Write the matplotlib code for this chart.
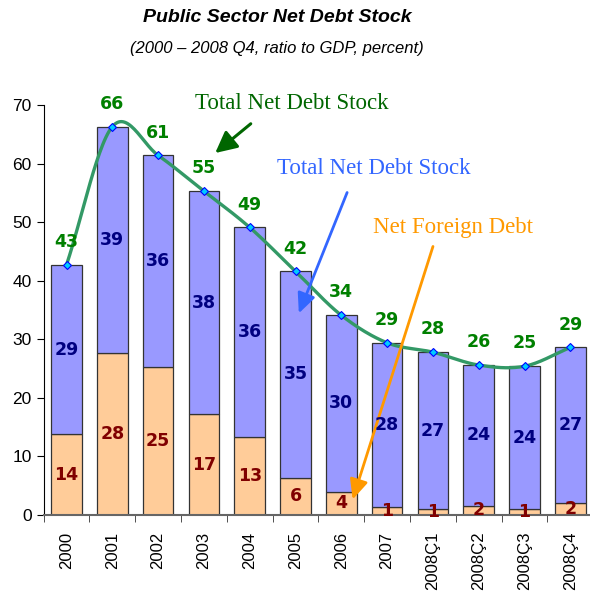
import numpy as np
import matplotlib
matplotlib.use("Agg")
from matplotlib import pyplot as plt

# etiquetas del eje x
periodos = ['2000', '2001', '2002', '2003', '2004', '2005', '2006', '2007',
            '2008Ç1', '2008Ç2', '2008Ç3', '2008Ç4']
# deuda externa neta (parte inferior de la barra)
deuda_externa = [13.8, 27.6, 25.2, 17.2, 13.4, 6.4, 4.0, 1.3, 1.0, 1.6, 1.0, 2.0]
# deuda interna neta (parte superior de la barra)
deuda_interna = [28.9, 38.7, 36.2, 38.1, 35.7, 35.2, 30.1, 28.1, 26.8, 24.0, 24.4, 26.6]

plt.rcParams['font.family'] = ['Liberation Sans', 'DejaVu Sans']


def catmull_rom(x, y, n=30):
    """curva suavizada que pasa por todos los puntos (estilo linea suavizada)"""
    px = np.concatenate([[2 * x[0] - x[1]], x, [2 * x[-1] - x[-2]]])
    py = np.concatenate([[2 * y[0] - y[1]], y, [2 * y[-1] - y[-2]]])
    xs, ys = [], []
    t = np.linspace(0, 1, n)
    for i in range(1, len(px) - 2):
        for p, out in ((px, xs), (py, ys)):
            p0, p1, p2, p3 = p[i - 1], p[i], p[i + 1], p[i + 2]
            out.extend(0.5 * ((2 * p1) + (-p0 + p2) * t
                              + (2 * p0 - 5 * p1 + 4 * p2 - p3) * t ** 2
                              + (-p0 + 3 * p1 - 3 * p2 + p3) * t ** 3))
    return np.array(xs), np.array(ys)


externa = np.array(deuda_externa)
interna = np.array(deuda_interna)
total = externa + interna
x = np.arange(len(periodos))

fig = plt.figure(figsize=(5.9, 5.93), dpi=100)
ax = fig.add_axes([43.6 / 590, 78 / 593, 549.6 / 590, 410 / 593])

ax.bar(x, externa, width=0.67, color='#ffcc99', edgecolor='#333333', linewidth=0.9)
ax.bar(x, interna, bottom=externa, width=0.67, color='#9999ff',
       edgecolor='#333333', linewidth=0.9)

# linea suavizada del total
sx, sy = catmull_rom(x.astype(float), total)
ax.plot(sx, sy, color='#339966', linewidth=2.4, zorder=3)
ax.plot(x, total, linestyle='none', marker='D', markersize=4.5,
        markerfacecolor='#00ccff', markeredgecolor='#0000ff',
        markeredgewidth=0.8, zorder=4)

# etiquetas de valores
for i in range(len(x)):
    ax.text(x[i], externa[i] / 2, '{:.0f}'.format(externa[i]), ha='center',
            va='center', color='#800000', fontsize=12.5, fontweight='bold',
            family='DejaVu Sans', zorder=5)
    ax.text(x[i], externa[i] + interna[i] / 2, '{:.0f}'.format(interna[i]),
            ha='center', va='center', color='#000080', fontsize=12.5,
            fontweight='bold', family='DejaVu Sans', zorder=5)
    ax.text(x[i], total[i] + 3.9, '{:.0f}'.format(total[i]), ha='center',
            va='center', color='#008000', fontsize=12.5, fontweight='bold',
            family='DejaVu Sans', zorder=5)

# anotaciones con flechas
ax.text(4.92, 70.3, 'Total Net Debt Stock', color='#006600', fontsize=16.5,
        family='Liberation Serif', ha='center', va='center')
ax.annotate('', xy=(3.2, 61.5), xytext=(4.07, 67.1),
            arrowprops=dict(arrowstyle='-|>,head_length=1.3,head_width=0.65',
                            color='#006600', lw=2.2), annotation_clip=False)

ax.text(6.71, 59.2, 'Total Net Debt Stock', color='#3366ff', fontsize=16.5,
        family='Liberation Serif', ha='center', va='center')
ax.annotate('', xy=(5.05, 34.0), xytext=(6.15, 55.5),
            arrowprops=dict(arrowstyle='-|>,head_length=1.2,head_width=0.55',
                            color='#3366ff', lw=2.0), annotation_clip=False)

ax.text(8.44, 49.0, 'Net Foreign Debt', color='#ff9900', fontsize=16.5,
        family='Liberation Serif', ha='center', va='center')
ax.annotate('', xy=(6.23, 2.2), xytext=(8.02, 46.3),
            arrowprops=dict(arrowstyle='-|>,head_length=1.2,head_width=0.55',
                            color='#ff9900', lw=2.0), annotation_clip=False)

# ejes
ax.set_xlim(-0.5, len(x) - 0.5)
ax.set_ylim(0, 70)
ax.set_yticks(range(0, 71, 10))
ax.set_xticks(x)
ax.set_xticklabels(periodos, rotation=90, fontsize=12)
ax.set_xticks(np.arange(-0.5, len(x), 1), minor=True)
ax.tick_params(axis='x', which='major', length=0, pad=12)
ax.tick_params(axis='x', which='minor', length=5, color='#333333')
ax.tick_params(axis='y', labelsize=12.5, length=5)
ax.spines['top'].set_visible(False)
ax.spines['right'].set_visible(False)
ax.spines['bottom'].set_color('#666666')
ax.spines['bottom'].set_linewidth(1.5)

fig.text(0.47, 0.97, 'Public Sector Net Debt Stock', ha='center', va='center',
         fontsize=14, fontweight='bold', style='italic')
fig.text(0.47, 0.919, '(2000 – 2008 Q4, ratio to GDP, percent)', ha='center',
         va='center', fontsize=12, style='italic')

plt.savefig('out.png', dpi=100)
